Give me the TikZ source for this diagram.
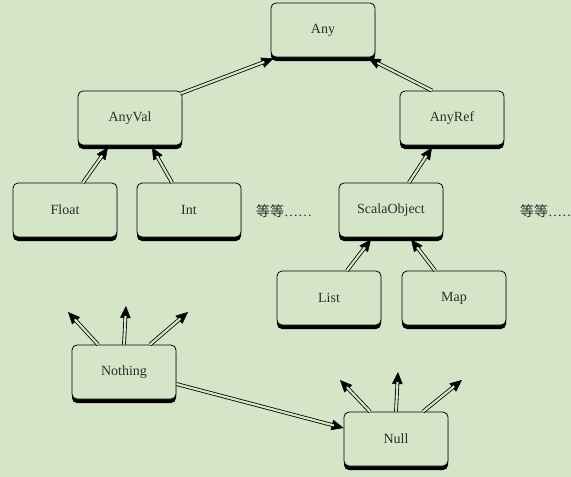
\documentclass[tikz,border=0pt]{standalone}
\usepackage{fontspec}
\setmainfont{Liberation Serif}
\newfontfamily\cjk{Noto Sans CJK SC}
\usetikzlibrary{arrows.meta,shadows}
\definecolor{bg}{RGB}{213,229,200}
\definecolor{txt}{RGB}{45,45,45}
\newcommand\dbarrow[2]{\draw[dhead] #1 -- #2; \draw[dshaft] #1 -- #2;}
\begin{document}
\begin{tikzpicture}[x=1pt,y=-1pt,
  box/.style={draw=black, line width=0.8pt, rounded corners=5pt, fill=bg,
    minimum width=104pt, minimum height=54pt, inner sep=0pt,
    font=\fontsize{14}{16}\selectfont, text=txt,
    drop shadow={shadow xshift=0pt, shadow yshift=-4pt, fill=black, opacity=1}},
  dhead/.style={-{Triangle[length=12pt,width=10.5pt]}, line width=0.5pt, black},
  dshaft/.style={double=bg, double distance=2.2pt, line width=0.8pt, black, shorten >=10pt},
  etc/.style={anchor=west, inner sep=0pt, font=\fontsize{14}{16}\selectfont, text=txt}]
\fill[bg] (0,0) rectangle (571,477);
\useasboundingbox (0,0) rectangle (571,477);
\node[box] (Any) at (323,30) {Any};
\node[box] (AnyVal) at (130,118) {AnyVal};
\node[box] (AnyRef) at (452,118) {AnyRef};
\node[box] (Float) at (65,210) {Float};
\node[box] (Int) at (189,210) {Int};
\node[box] (ScalaObject) at (391,210) {ScalaObject};
\node[box] (List) at (329,298) {List};
\node[box] (Map) at (454,298) {Map};
\node[box] (Nothing) at (124,372) {Nothing};
\node[box] (Null) at (396,439) {Null};
\node[etc] (etc1) at (256,211) {{\cjk 等等}……};
\node[etc] (etc2) at (520,211) {{\cjk 等等}……};
\coordinate (n1) at (68,312);
\coordinate (n2) at (126,306);
\coordinate (n3) at (188,312);
\coordinate (u1) at (340,380);
\coordinate (u2) at (398,372);
\coordinate (u3) at (462,380);
\dbarrow{([xshift=-2pt,yshift=-3pt]AnyVal.north east)}{([xshift=3pt,yshift=-1pt]Any.south west)}
\dbarrow{([xshift=-20pt]AnyRef.north)}{([xshift=-7pt,yshift=-1pt]Any.south east)}
\dbarrow{([xshift=18pt]Float.north)}{([xshift=-22pt,yshift=-2pt]AnyVal.south)}
\dbarrow{([xshift=-17pt]Int.north)}{([xshift=22pt,yshift=-2pt]AnyVal.south)}
\dbarrow{([xshift=18pt]ScalaObject.north)}{([xshift=-20pt,yshift=-2pt]AnyRef.south)}
\dbarrow{([xshift=18pt]List.north)}{([xshift=-20pt,yshift=-2pt]ScalaObject.south)}
\dbarrow{([xshift=-19pt]Map.north)}{([xshift=20pt,yshift=-2pt]ScalaObject.south)}
\dbarrow{([yshift=-12pt]Nothing.east)}{([yshift=11pt]Null.west)}
\dbarrow{([xshift=-26pt]Nothing.north)}{(n1)}
\dbarrow{(Nothing.north)}{(n2)}
\dbarrow{([xshift=26pt]Nothing.north)}{(n3)}
\dbarrow{([xshift=-26pt]Null.north)}{(u1)}
\dbarrow{(Null.north)}{(u2)}
\dbarrow{([xshift=27pt]Null.north)}{(u3)}
\end{tikzpicture}
\end{document}
